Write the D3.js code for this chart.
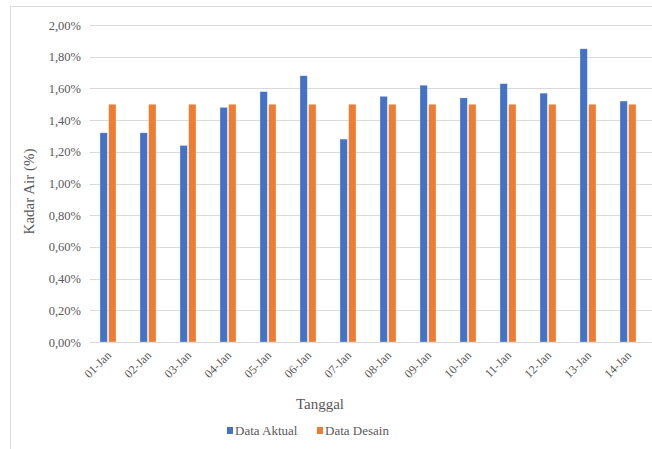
<!DOCTYPE html>
<html>
<head>
<meta charset="utf-8">
<script src="https://cdn.jsdelivr.net/npm/d3@7"></script>
<style>
  body { margin: 0; background: #fff; }
</style>
</head>
<body>
<div id="chart"></div>
<script>
const categories = ["01-Jan", "02-Jan", "03-Jan", "04-Jan", "05-Jan", "06-Jan", "07-Jan",
                    "08-Jan", "09-Jan", "10-Jan", "11-Jan", "12-Jan", "13-Jan", "14-Jan"];
const dataAktual = [1.32, 1.32, 1.24, 1.48, 1.58, 1.68, 1.28, 1.55, 1.62, 1.54, 1.63, 1.57, 1.85, 1.52];
const dataDesain = [1.50, 1.50, 1.50, 1.50, 1.50, 1.50, 1.50, 1.50, 1.50, 1.50, 1.50, 1.50, 1.50, 1.50];
const yTicks = [0, 0.2, 0.4, 0.6, 0.8, 1.0, 1.2, 1.4, 1.6, 1.8, 2.0];
const seriesNames = ["Data Aktual", "Data Desain"];
const colors = ["#4472C4", "#ED7D31"];

const width = 652, height = 449;
const plot = { left: 88, right: 648, top: 25, bottom: 342 };
const serif = "'Liberation Serif', 'Times New Roman', 'DejaVu Serif', serif";

const svg = d3.select("#chart").append("svg")
  .attr("width", width)
  .attr("height", height)
  .attr("font-family", serif);

// chart frame
svg.append("rect")
  .attr("x", 10.5).attr("y", 6.5)
  .attr("width", 660).attr("height", 460)
  .attr("fill", "none")
  .attr("stroke", "#D9D9D9");

const x0 = d3.scaleBand()
  .domain(categories)
  .range([plot.left, plot.right])
  .paddingInner(0.6)
  .paddingOuter(0.3);

const x1 = d3.scaleBand()
  .domain(seriesNames)
  .range([0, x0.bandwidth()])
  .paddingInner(0.15);

const y = d3.scaleLinear()
  .domain([0, 2.0])
  .range([plot.bottom, plot.top]);

// gridlines
svg.append("g")
  .selectAll("line")
  .data(yTicks)
  .join("line")
  .attr("x1", plot.left + 2).attr("x2", plot.right + 4)
  .attr("y1", d => Math.round(y(d)) + 0.5)
  .attr("y2", d => Math.round(y(d)) + 0.5)
  .attr("stroke", "#D9D9D9")
  .attr("stroke-width", 1.2);

// y axis labels
const yAxis = d3.axisLeft(y)
  .tickValues(yTicks)
  .tickSize(0)
  .tickPadding(0)
  .tickFormat(d => d3.format(".2f")(d).replace(".", ",") + "%");

svg.append("g")
  .attr("transform", `translate(81, 0)`)
  .call(yAxis)
  .call(g => g.select(".domain").remove())
  .selectAll("text")
  .attr("fill", "#595959")
  .style("font-size", "12.5px");

// bars
const rows = categories.map((c, i) => ({ cat: c, values: [dataAktual[i], dataDesain[i]] }));

svg.append("g")
  .selectAll("g")
  .data(rows)
  .join("g")
  .attr("transform", d => `translate(${x0(d.cat)}, 0)`)
  .selectAll("rect")
  .data(d => d.values.map((v, j) => ({ name: seriesNames[j], value: v, color: colors[j] })))
  .join("rect")
  .attr("x", d => x1(d.name))
  .attr("width", x1.bandwidth())
  .attr("y", d => y(d.value))
  .attr("height", d => y(0) - y(d.value))
  .attr("fill", d => d.color)
  .attr("stroke", "#ffffff")
  .attr("stroke-opacity", 0.5)
  .attr("stroke-width", 0.6);

// x axis labels
const xAxis = d3.axisBottom(x0).tickSize(0).tickPadding(0);
svg.append("g")
  .attr("transform", `translate(0, ${plot.bottom})`)
  .call(xAxis)
  .call(g => g.select(".domain").remove())
  .selectAll("text")
  .attr("fill", "#595959")
  .style("font-size", "12px")
  .attr("text-anchor", "end")
  .attr("dy", "0")
  .attr("transform", "translate(4, 14) rotate(-45)");

// axis titles
svg.append("text")
  .attr("x", 320).attr("y", 409)
  .attr("text-anchor", "middle")
  .attr("fill", "#595959")
  .style("font-size", "15px")
  .text("Tanggal");

svg.append("text")
  .attr("transform", `translate(34, ${(plot.top + plot.bottom) / 2 + 8}) rotate(-90)`)
  .attr("text-anchor", "middle")
  .attr("fill", "#595959")
  .style("font-size", "15px")
  .text("Kadar Air (%)");

// legend
const legendX = [227, 317];
const legend = svg.append("g")
  .selectAll("g")
  .data(seriesNames)
  .join("g")
  .attr("transform", (d, i) => `translate(${legendX[i]}, 427)`);

legend.append("rect")
  .attr("width", 6).attr("height", 7)
  .attr("fill", (d, i) => colors[i]);

legend.append("text")
  .attr("x", 8).attr("y", 7.5)
  .attr("fill", "#595959")
  .style("font-size", "13px")
  .text(d => d);

svg.selectAll("text").style("font-family", serif);
</script>
</body>
</html>
